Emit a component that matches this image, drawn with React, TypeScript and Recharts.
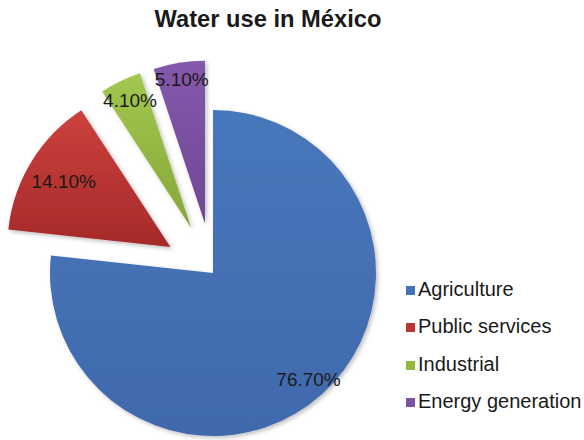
import React from "react";
import { PieChart, Pie, Cell, Legend } from "recharts";

const categories = ["Agriculture", "Public services", "Industrial", "Energy generation"];
const values = [76.7, 14.1, 4.1, 5.1];
const labels = ["76.70%", "14.10%", "4.10%", "5.10%"];
const colors = ["#4472b6", "#bd3532", "#93b840", "#7b53a2"];
const colorsLight = ["#4777bb", "#cc413c", "#a2c850", "#8458ab"];
const colorsDark = ["#4169ad", "#a52a2a", "#86a736", "#6f4895"];
const explode = [0, 50, 50, 50];
const labelRadius = [0.877, 0.767, 0.865, 0.896];

const data = categories.map((name, i) => ({ name, value: values[i], label: labels[i] }));

const CX = 213;
const CY = 273;
const R = 163;
const RAD = Math.PI / 180;

const total = values.reduce((a, b) => a + b, 0);
const midAngles: number[] = [];
{
  let acc = 0;
  values.forEach((v) => {
    const start = 90 - (acc / total) * 360;
    acc += v;
    const end = 90 - (acc / total) * 360;
    midAngles.push((start + end) / 2);
  });
}

const makeLabel = (idx: number) => (props: any) => {
  if (props.index !== idx) return null;
  const { cx, cy, midAngle, outerRadius } = props;
  const r = outerRadius * labelRadius[idx];
  const x = cx + r * Math.cos(-midAngle * RAD);
  const y = cy + r * Math.sin(-midAngle * RAD);
  return (
    <text
      x={x}
      y={y}
      textAnchor="middle"
      dominantBaseline="central"
      fill="#1a1a1a"
      fontSize={19}
      fontFamily="Liberation Sans, Arial, sans-serif"
    >
      {labels[idx]}
    </text>
  );
};

const LegendContent = () => (
  <div style={{ fontFamily: "Liberation Sans, Arial, sans-serif", fontSize: 20, color: "#1a1a1a" }}>
    {categories.map((c, i) => (
      <div key={c} style={{ display: "flex", alignItems: "center", height: 37.3, whiteSpace: "nowrap" }}>
        <span
          style={{
            display: "inline-block",
            width: 9,
            height: 9,
            marginTop: 2,
            background: colors[i],
            marginRight: 3,
          }}
        />
        <span>{c}</span>
      </div>
    ))}
  </div>
);

export default function App() {
  return (
    <div style={{ position: "absolute", left: 0, top: 0, width: 584, height: 440, background: "#fff" }}>
      <div
        style={{
          position: "absolute",
          left: 0,
          top: 6,
          width: 536,
          textAlign: "center",
          fontFamily: "Liberation Sans, Arial, sans-serif",
          fontWeight: "bold",
          fontSize: 23.7,
          color: "#1a1a1a",
          zIndex: 2,
        }}
      >
        Water use in México
      </div>
      <PieChart
        width={584}
        height={440}
        margin={{ top: 0, right: 0, bottom: 0, left: 0 }}
        style={{ position: "absolute", left: 0, top: 0 }}
      >
        <defs>
          {colors.map((c, i) => (
            <linearGradient key={i} id={`grad${i}`} x1="0" y1="0" x2="0" y2="1">
              <stop offset="0%" stopColor={colorsLight[i]} />
              <stop offset="100%" stopColor={colorsDark[i]} />
            </linearGradient>
          ))}
          <filter id="shadow" x="-10%" y="-10%" width="130%" height="130%">
            <feDropShadow dx="2" dy="2" stdDeviation="2" floodColor="#000" floodOpacity="0.25" />
          </filter>
        </defs>
        {values.map((_, idx) => {
          const dx = explode[idx] * Math.cos(-midAngles[idx] * RAD);
          const dy = explode[idx] * Math.sin(-midAngles[idx] * RAD);
          return (
            <Pie
              key={idx}
              data={data}
              dataKey="value"
              nameKey="name"
              cx={CX + dx}
              cy={CY + dy}
              outerRadius={R}
              innerRadius={0}
              startAngle={90}
              endAngle={-270}
              isAnimationActive={false}
              label={makeLabel(idx)}
              labelLine={false}
              stroke="none"
            >
              {data.map((d, i) => (
                <Cell
                  key={d.name}
                  fill={i === idx ? `url(#grad${i})` : "transparent"}
                  filter={i === idx ? "url(#shadow)" : undefined}
                  stroke="none"
                />
              ))}
            </Pie>
          );
        })}
        <Legend
          layout="vertical"
          content={<LegendContent />}
          wrapperStyle={{ position: "absolute", left: 406, top: 271, width: 178 }}
        />
      </PieChart>
    </div>
  );
}
